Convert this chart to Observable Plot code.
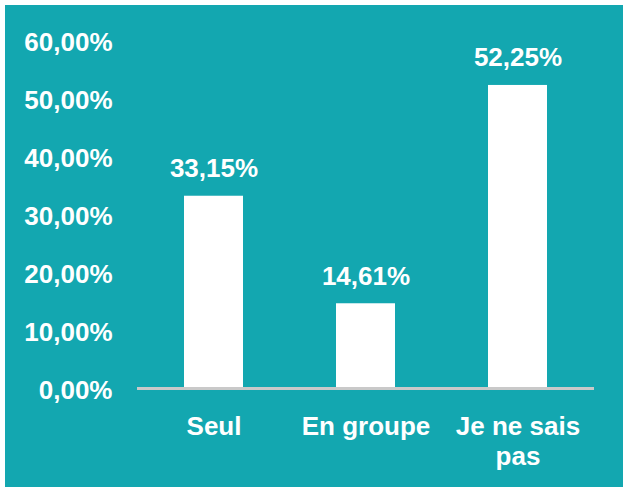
<!DOCTYPE html>
<html>
<head>
<meta charset="utf-8">
<script src="https://cdn.jsdelivr.net/npm/d3@7"></script>
<script src="https://cdn.jsdelivr.net/npm/@observablehq/plot@0.6"></script>
<style>
  html, body { margin: 0; padding: 0; background: #ffffff; }
  #wrap { padding: 5px 0 0 5px; width: 618px; height: 482px; }
  #wrap svg { display: block; background: #13a7b0; }
</style>
</head>
<body>
<div id="wrap"></div>
<script>
const categories = ["Seul", "En groupe", "Je ne sais pas"];
const categoryLabels = ["Seul", "En groupe", "Je ne sais\npas"];
const values = [33.15, 14.61, 52.25];
const yTicks = [0, 10, 20, 30, 40, 50, 60];

const data = categories.map((c, i) => ({cat: c, label: categoryLabels[i], value: values[i]}));
const fmt = (d) => d.toFixed(2).replace(".", ",") + "%";
const font = "'Liberation Sans', Arial, Helvetica, sans-serif";

const chart = Plot.plot({
  width: 618,
  height: 482,
  marginLeft: 132,
  marginRight: 29,
  marginTop: 35,
  marginBottom: 99,
  style: {background: "#13a7b0", color: "#ffffff", fontFamily: font, fontWeight: "bold", fontSize: "26px"},
  x: {domain: categories, paddingInner: 0.61, paddingOuter: 0.305, axis: null},
  y: {domain: [0, 60], ticks: yTicks, tickFormat: fmt, label: null},
  marks: [
    Plot.barY(data, {x: "cat", y: "value", fill: "#ffffff"}),
    Plot.ruleY([0], {stroke: "#c9c9c9", strokeWidth: 3}),
    Plot.axisY({ticks: yTicks, tickFormat: fmt, tickSize: 0, tickPadding: 25, fontSize: 26, fill: "#ffffff", dy: 2, label: null}),
    Plot.text(data, {x: "cat", y: "value", text: (d) => fmt(d.value), lineAnchor: "bottom", dy: -19, fill: "#ffffff", fontSize: 26, fontWeight: "bold"}),
    Plot.text(data, {x: "cat", y: () => 0, text: "label", lineAnchor: "top", dy: 25, lineHeight: 1.15, fill: "#ffffff", fontSize: 26, fontWeight: "bold"})
  ]
});
document.getElementById("wrap").appendChild(chart);
</script>
</body>
</html>
